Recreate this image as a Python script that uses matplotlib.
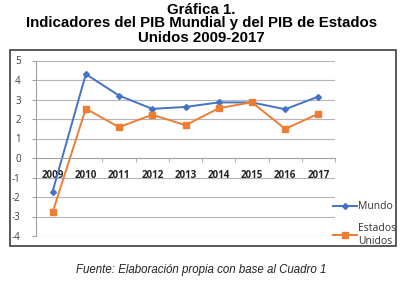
import matplotlib
matplotlib.use("Agg")
import matplotlib.pyplot as plt
from matplotlib.patches import Rectangle

years = ["2009", "2010", "2011", "2012", "2013", "2014", "2015", "2016", "2017"]
mundo = [-1.72, 4.3, 3.2, 2.52, 2.62, 2.85, 2.85, 2.5, 3.15]
eeuu = [-2.78, 2.53, 1.58, 2.22, 1.68, 2.55, 2.86, 1.49, 2.27]
yticks = [-4, -3, -2, -1, 0, 1, 2, 3, 4, 5]

W, H = 403, 281
fig = plt.figure(figsize=(W / 100, H / 100), dpi=100)

# chart frame
fig.patches.append(Rectangle((10 / W, 1 - 246 / H), 386 / W, 196 / H,
                             transform=fig.transFigure, fill=False,
                             edgecolor="#4d4d4d", linewidth=1.3))

ax = fig.add_axes([36 / W, 1 - 236 / H, 299 / W, 175.5 / H])
x = list(range(len(years)))
ax.plot(x, mundo, color="#4472C4", marker="D", markersize=3, linewidth=1.4, label="Mundo")
ax.plot(x, eeuu, color="#ED7D31", marker="s", markersize=5, linewidth=1.4, label="Estados\nUnidos")

ax.set_xlim(-0.5, len(years) - 0.5)
ax.set_ylim(-4, 5)
ax.set_yticks(yticks)
ax.set_yticklabels([str(v) for v in yticks], fontsize=7, color="#404040", family="Open Sans")
for v in yticks:
    if v != 0:
        ax.axhline(v, color="#b8b4bc", linewidth=0.8, zorder=0)

ax.spines["top"].set_visible(False)
ax.spines["right"].set_visible(False)
ax.spines["bottom"].set_position(("data", 0))
ax.spines["bottom"].set_color("#a0a0a0")
ax.spines["left"].set_color("#a0a0a0")

ax.set_xticks(x)
ax.set_xticklabels(years, fontsize=7, fontweight="bold", color="#222222", family="Open Sans")
ax.set_xticks([i - 0.5 for i in range(len(years) + 1)], minor=True)
ax.tick_params(axis="x", which="major", length=0, pad=9)
ax.tick_params(axis="x", which="minor", length=3, color="#a0a0a0", direction="out")
ax.tick_params(axis="y", length=3, color="#a0a0a0", pad=8)

fig.legend(loc="center left", bbox_to_anchor=(333 / W, 1 - 224 / H), frameon=False,
           prop={"family": "Open Sans", "size": 7.5}, handlelength=2.3, handletextpad=0.1,
           labelspacing=1.0, borderaxespad=0, borderpad=0, labelcolor="#333333")

tkw = dict(ha="center", va="center", fontsize=10.8, fontweight="bold", family="Liberation Sans")
fig.text(0.5, 1 - 9.5 / H, "Gráfica 1.", **tkw)
fig.text(0.5, 1 - 23.5 / H, "Indicadores del PIB Mundial y del PIB de Estados", **tkw)
fig.text(0.5, 1 - 37.5 / H, "Unidos 2009-2017", **tkw)
fig.text(0.5, 1 - 270 / H, "Fuente: Elaboración propia con base al Cuadro 1", ha="center",
         va="center", fontsize=8.3, style="italic", family="Liberation Sans", color="#222222")

fig.savefig("out.png", dpi=100)
